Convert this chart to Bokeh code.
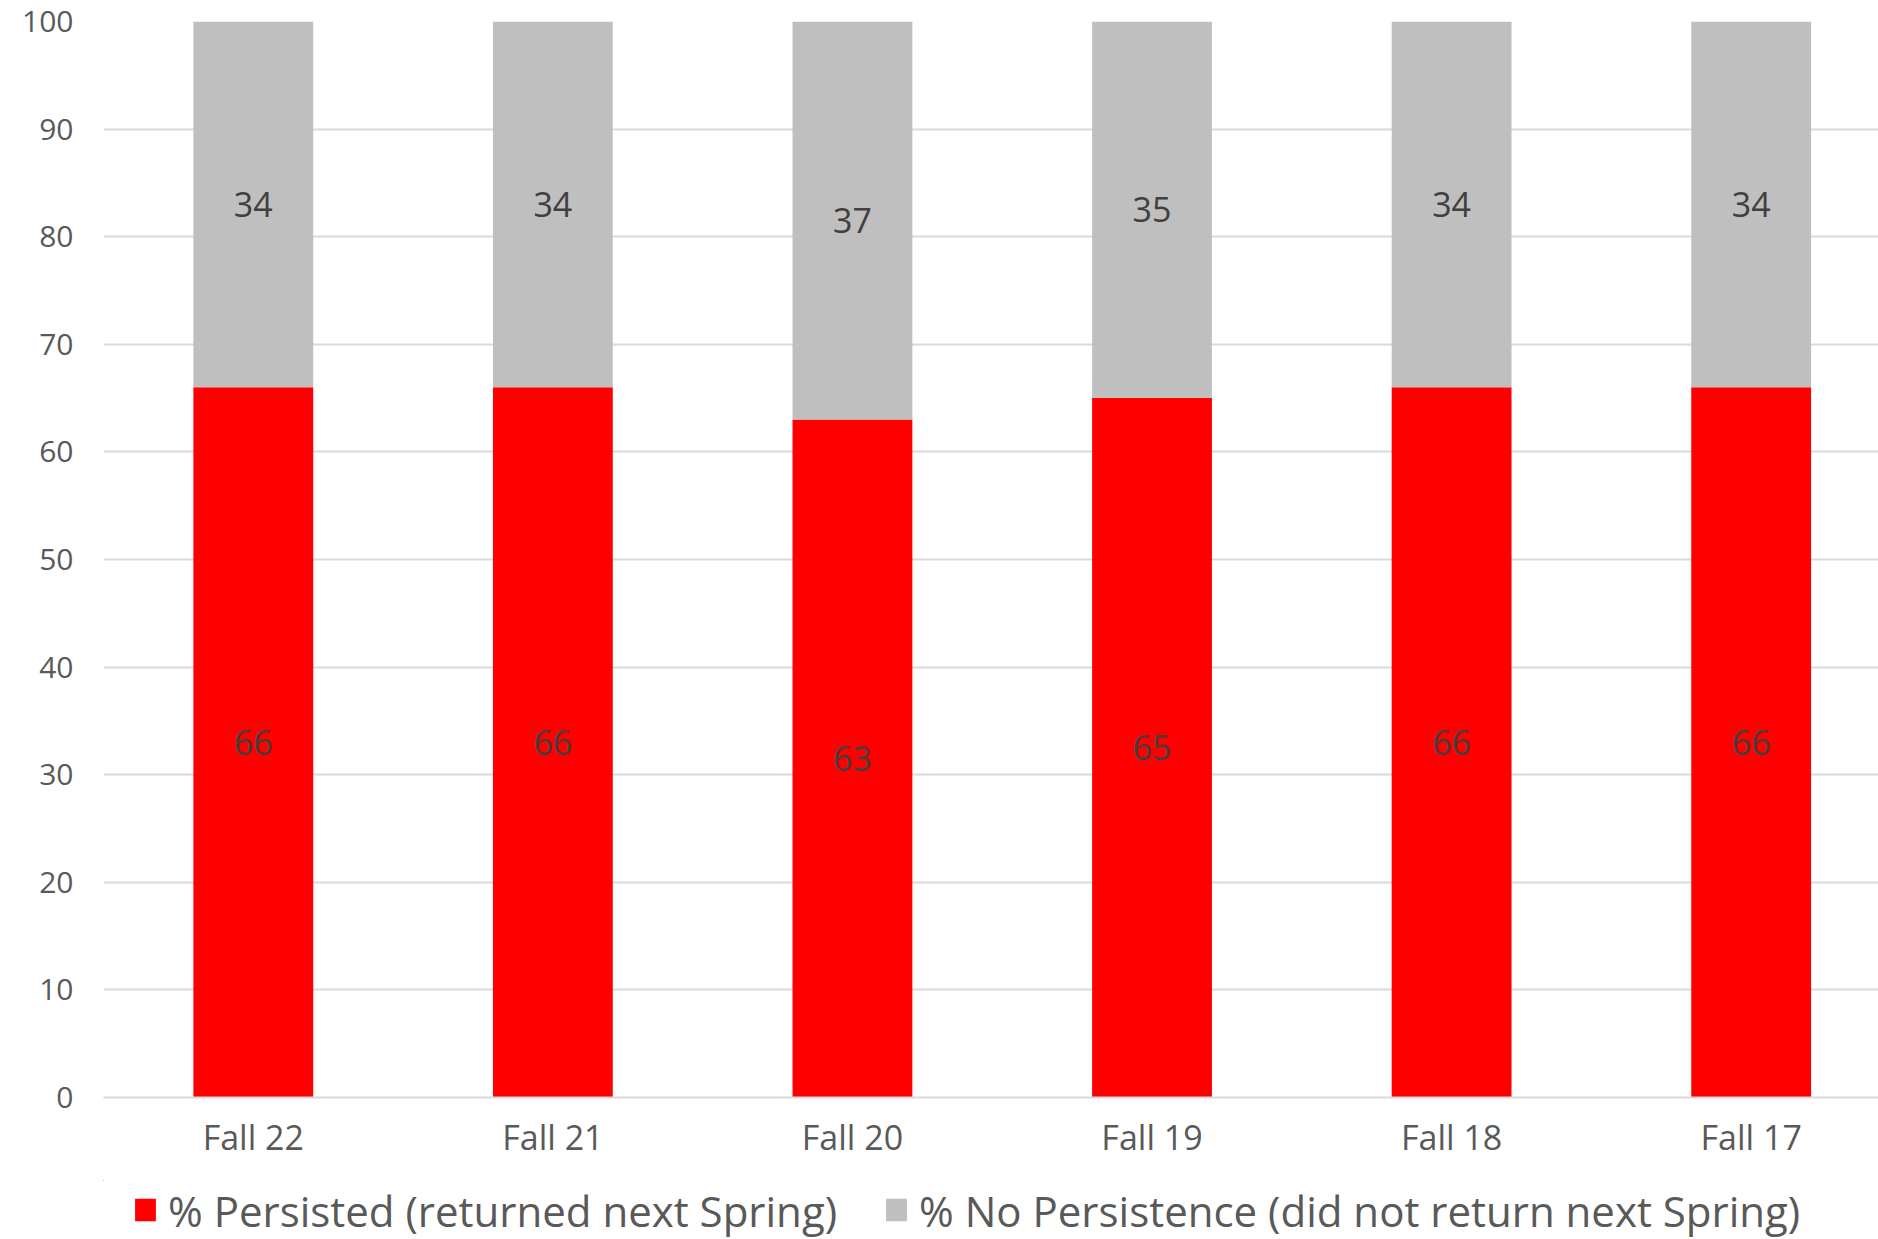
from bokeh.plotting import figure
from bokeh.models import Range1d, FixedTicker, Legend, LegendItem, ColumnDataSource
from bokeh.layouts import column
from bokeh.core.properties import value
from bokeh.embed import file_html
from bokeh.resources import INLINE

categories = ["Fall 22", "Fall 21", "Fall 20", "Fall 19", "Fall 18", "Fall 17"]
persisted = [66, 66, 63, 65, 66, 66]
no_persistence = [34, 34, 37, 35, 34, 34]
series_names = ["% Persisted (returned next Spring)", "% No Persistence (did not return next Spring)"]
y_ticks = [0, 10, 20, 30, 40, 50, 60, 70, 80, 90, 100]
colors = ["#FF0000", "#BFBFBF"]

FONT = "Open Sans"
xs = list(range(len(categories)))

src = ColumnDataSource(dict(x=xs, p=persisted, n=no_persistence,
                            p_mid=[v / 2 for v in persisted],
                            n_mid=[a + b / 2 for a, b in zip(persisted, no_persistence)],
                            p_lbl=[str(v) for v in persisted],
                            n_lbl=[str(v) for v in no_persistence]))

W = 1878
p = figure(width=W, height=1180, output_backend="svg", toolbar_location=None,
           x_range=Range1d(-0.5, 5.425), y_range=Range1d(0, 100),
           min_border_left=103, min_border_right=0, min_border_top=21, min_border_bottom=83)
p.outline_line_color = None
p.background_fill_color = "white"
p.border_fill_color = "white"

r = p.vbar_stack(["p", "n"], x="x", width=0.4, source=src, color=colors, line_color=None)

p.text(x="x", y="p_mid", text="p_lbl", source=src, text_align="center", text_baseline="middle",
       text_color="#404040", text_font=value(FONT), text_font_size="34px")
p.text(x="x", y="n_mid", text="n_lbl", source=src, text_align="center", text_baseline="middle",
       text_color="#404040", text_font=value(FONT), text_font_size="34px")

p.xgrid.grid_line_color = None
p.ygrid.grid_line_color = "#D9D9D9"
p.ygrid.grid_line_width = 2
p.ygrid.ticker = FixedTicker(ticks=y_ticks)

p.yaxis.ticker = FixedTicker(ticks=y_ticks)
p.yaxis.axis_line_color = None
p.yaxis.major_tick_line_color = None
p.yaxis.minor_tick_line_color = None
p.yaxis.major_label_standoff = 24
p.yaxis.major_label_text_font = FONT
p.yaxis.major_label_text_font_size = "30px"
p.yaxis.major_label_text_color = "#595959"

p.xaxis.ticker = FixedTicker(ticks=xs)
p.xaxis.major_label_overrides = {i: c for i, c in zip(xs, categories)}
p.xaxis.axis_line_color = "#D9D9D9"
p.xaxis.axis_line_width = 2
p.xaxis.major_tick_line_color = None
p.xaxis.minor_tick_line_color = None
p.xaxis.major_label_standoff = 10
p.xaxis.major_label_text_font = FONT
p.xaxis.major_label_text_font_size = "34px"
p.xaxis.major_label_text_color = "#595959"

# legend strip: same series, kept far outside its visible ranges, so only the legend shows
lf = figure(width=W, height=59, output_backend="svg", toolbar_location=None,
            x_range=Range1d(1000, 1001), y_range=Range1d(-2000, -1000),
            x_axis_type=None, y_axis_type=None,
            min_border_left=0, min_border_right=0, min_border_top=0, min_border_bottom=0)
lf.outline_line_color = None
lf.background_fill_color = "white"
lf.border_fill_color = "white"
lr = lf.vbar_stack(["p", "n"], x="x", width=0.4, source=src, color=colors, line_color=None)

legend = Legend(items=[LegendItem(label=series_names[0], renderers=[lr[0]]),
                       LegendItem(label=series_names[1], renderers=[lr[1]])],
                orientation="horizontal", location="left",
                glyph_width=26, glyph_height=28, label_standoff=10, spacing=46,
                label_text_font=FONT, label_text_font_size="42px", label_text_color="#595959",
                border_line_color=None, background_fill_alpha=0, padding=0, margin=29)
lf.add_layout(legend, "center")

layout = column(p, lf, spacing=0)
open("out.html", "w").write(file_html(layout, INLINE))
